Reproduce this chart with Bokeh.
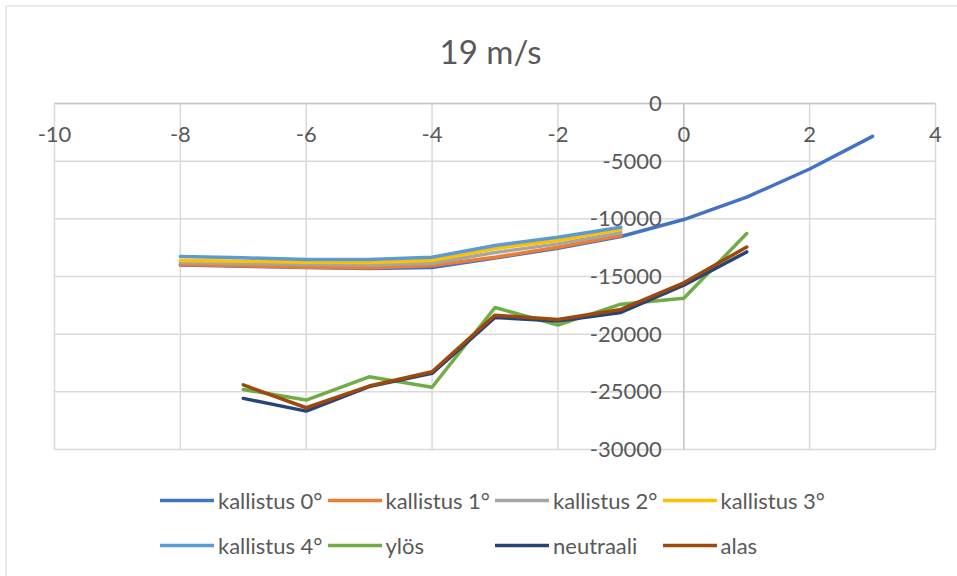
from bokeh.plotting import figure
from bokeh.models import Range1d, Legend, LegendItem, ColumnDataSource
from bokeh.core.properties import value
from bokeh.embed import file_html
from bokeh.resources import INLINE

# ---- data ----
x_kall0 = [-8, -7, -6, -5, -4, -3, -2, -1, 0, 1, 2, 3]
kall0 = [-14000, -14120, -14230, -14300, -14220, -13400, -12550, -11530, -10060, -8120, -5680, -2850]
x_kall = [-8, -7, -6, -5, -4, -3, -2, -1]
kall1 = [-13960, -14070, -14190, -14260, -14050, -13330, -12460, -11450]
kall2 = [-13790, -13870, -13960, -14000, -13850, -12920, -12170, -11210]
kall3 = [-13610, -13670, -13760, -13790, -13610, -12570, -11880, -10930]
kall4 = [-13270, -13380, -13530, -13530, -13330, -12310, -11590, -10730]
x_low = [-7, -6, -5, -4, -3, -2, -1, 0, 1]
ylos = [-24800, -25710, -23700, -24600, -17690, -19220, -17400, -16880, -11280]
neutraali = [-25570, -26670, -24550, -23400, -18560, -18850, -18120, -15760, -12870]
alas = [-24400, -26380, -24500, -23260, -18350, -18730, -17860, -15550, -12440]

x_ticks = [-10, -8, -6, -4, -2, 0, 2, 4]
x_tick_labels = ["-10", "-8", "-6", "-4", "-2", "0", "2", "4"]
y_ticks = [-30000, -25000, -20000, -15000, -10000, -5000, 0]
y_tick_labels = ["-30000", "-25000", "-20000", "-15000", "-10000", "-5000", "0"]
title_text = "19 m/s"

series = [
    ("kallistus 0°", x_kall0, kall0, "#4472C4"),
    ("kallistus 1°", x_kall, kall1, "#ED7D31"),
    ("kallistus 2°", x_kall, kall2, "#A5A5A5"),
    ("kallistus 3°", x_kall, kall3, "#FFC000"),
    ("kallistus 4°", x_kall, kall4, "#5B9BD5"),
    ("ylös", x_low, ylos, "#70AD47"),
    ("neutraali", x_low, neutraali, "#264478"),
    ("alas", x_low, alas, "#9E480E"),
]

FONT = "Lato"
TXT = "#595959"
GRID = "#D9D9D9"
AXIS = "#C8C8C8"

# ---- layout (pixels on the canvas) ----
W, H = 957, 576
PLOT_L, PLOT_R, PLOT_T, PLOT_B = 54, 935, 103, 449
xmin, xmax = x_ticks[0], x_ticks[-1]
ymin, ymax = y_ticks[0], y_ticks[-1]
kx = (PLOT_R - PLOT_L) / (xmax - xmin)
ky = (PLOT_B - PLOT_T) / (ymax - ymin)
x_start = xmin - PLOT_L / kx
x_end = xmax + (W - PLOT_R) / kx
y_end = ymax + PLOT_T / ky
y_start = ymin - (H - PLOT_B) / ky


def dx(px):
    return x_start + px / kx


def dy(py):
    return y_end - py / ky


p = figure(width=W, height=H, output_backend="svg", toolbar_location=None,
           x_range=Range1d(x_start, x_end), y_range=Range1d(y_start, y_end),
           x_axis_type=None, y_axis_type=None, min_border=0)
p.title.visible = False
p.outline_line_color = None
p.background_fill_color = "white"
p.border_fill_color = "white"

# chart-area border (top and left edges visible in the reference)
p.segment(x0=[dx(5.5), dx(5.5)], y0=[dy(5.5), dy(5.5)], x1=[dx(W), dx(5.5)], y1=[dy(5.5), dy(H)],
          line_color=GRID, line_width=1.2)

# grid lines
p.segment(x0=x_ticks, y0=[ymin] * len(x_ticks), x1=x_ticks, y1=[ymax] * len(x_ticks),
          line_color=GRID, line_width=1.5)
p.segment(x0=[xmin] * len(y_ticks), y0=y_ticks, x1=[xmax] * len(y_ticks), y1=y_ticks,
          line_color=GRID, line_width=1.5)
# axis lines crossing at 0
p.segment(x0=[xmin, 0], y0=[0, ymin], x1=[xmax, 0], y1=[0, ymax], line_color=AXIS, line_width=1.5)

items = []
for name, xs, ys, col in series:
    r = p.line(xs, ys, line_color=col, line_width=3.5, line_join="round", line_cap="round")
    items.append(LegendItem(label=name, renderers=[r]))

# tick labels (axes cross at 0)
xsrc = ColumnDataSource(dict(x=x_ticks, y=[0] * len(x_ticks), t=x_tick_labels))
p.text(x="x", y="y", text="t", source=xsrc, text_align="center", text_baseline="middle",
       y_offset=31, text_font=value(FONT), text_font_size="22px", text_color=TXT)
ysrc = ColumnDataSource(dict(x=[0] * len(y_ticks), y=y_ticks, t=y_tick_labels))
p.text(x="x", y="y", text="t", source=ysrc, text_align="right", text_baseline="middle",
       x_offset=-22, text_font=value(FONT), text_font_size="22px", text_color=TXT)

# title
p.text(x=[dx(490)], y=[dy(50)], text=[title_text], text_align="center", text_baseline="middle",
       text_font=value(FONT), text_font_size="33px", text_color=TXT)

legend = Legend(items=items, orientation="horizontal", ncols=4,
                location=(160, H - 565), border_line_color=None, background_fill_alpha=0,
                label_text_font=FONT, label_text_font_size="22px", label_text_color=TXT,
                glyph_width=54, glyph_height=40, label_standoff=4, spacing=5,
                padding=0, margin=0)
p.add_layout(legend, "center")

open("out.html", "w").write(file_html(p, INLINE))
